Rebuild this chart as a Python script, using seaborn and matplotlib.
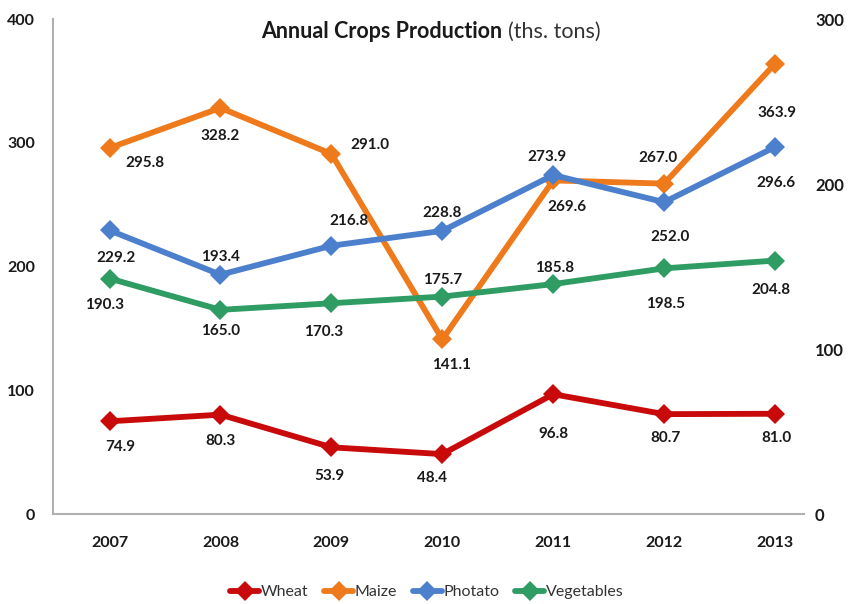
import matplotlib
matplotlib.use("Agg")
import matplotlib.pyplot as plt
import seaborn as sns
import pandas as pd

years = ["2007", "2008", "2009", "2010", "2011", "2012", "2013"]
wheat = [74.9, 80.3, 53.9, 48.4, 96.8, 80.7, 81.0]
maize = [295.8, 328.2, 291.0, 141.1, 269.6, 267.0, 363.9]
photato = [229.2, 193.4, 216.8, 228.8, 273.9, 252.0, 296.6]
vegetables = [190.3, 165.0, 170.3, 175.7, 185.8, 198.5, 204.8]
series_names = ["Wheat", "Maize", "Photato", "Vegetables"]
left_ticks = [0, 100, 200, 300, 400]
right_ticks = [0, 100, 200, 300]

colors = {"Wheat": "#C80A0A", "Maize": "#EE7A1C", "Photato": "#4C80CC", "Vegetables": "#2E9C63"}

# label offsets in pixels (dx, dy) for each point
offsets = {
    "Wheat": [(11, -26), (0, -26), (-2, -29), (-10, -24), (0, -40), (1, -24), (1, -24)],
    "Maize": [(35, -15), (0, -28), (39, 9), (9, -26), (14, -27), (-6, 26), (2, -49)],
    "Photato": [(6, -28), (0, 18), (18, 25), (0, 18), (-6, 18), (6, -35), (1, -36)],
    "Vegetables": [(-5, -26), (0, -21), (-8, -29), (0, 17), (1, 16), (1, -36), (-4, -29)],
}

sns.set_theme(style="white")
plt.rcParams["font.family"] = ["Lato", "DejaVu Sans"]

values = {"Wheat": wheat, "Maize": maize, "Photato": photato, "Vegetables": vegetables}
rows = []
for name in series_names:
    for i, (yr, v) in enumerate(zip(years, values[name])):
        rows.append({"idx": i, "year": yr, "crop": name, "value": v})
df = pd.DataFrame(rows)

fig = plt.figure(figsize=(8.48, 6.04), dpi=100)
ax = fig.add_axes([0.0625, 0.149, 0.8855, 0.8195])

for name in series_names:
    sub = df[df.crop == name]
    sns.lineplot(data=sub, x="idx", y="value", ax=ax, color=colors[name], marker="D",
                 markersize=10, linewidth=4.2, markeredgewidth=0, label=name, legend=False)
    for (i, v), (dx, dy) in zip(zip(sub.idx, sub.value), offsets[name]):
        ax.annotate(f"{v:.1f}", (i, v), xytext=(dx, dy), textcoords="offset pixels",
                    ha="center", va="center", fontsize=11, fontweight="bold", color="#1a1a1a")

ax.set_xlim(-0.51, 6.26)
ax.set_ylim(0, 400)
ax.set_yticks(left_ticks)
ax.set_xticks(range(len(years)))
ax.set_xticklabels(years)
ax.set_xlabel("")
ax.set_ylabel("")
for s in ["top", "right"]:
    ax.spines[s].set_visible(False)
for s in ["left", "bottom"]:
    ax.spines[s].set_color("#b0b0b0")
    ax.spines[s].set_linewidth(1.5)
ax.tick_params(axis="both", length=0, labelsize=11.5, colors="#1a1a1a")
ax.tick_params(axis="y", pad=13)
ax.tick_params(axis="x", pad=16)
for lab in ax.get_xticklabels() + ax.get_yticklabels():
    lab.set_fontweight("bold")

ax2 = ax.twinx()
ax2.set_ylim(0, 300)
ax2.set_yticks(right_ticks)
for s in ax2.spines.values():
    s.set_visible(False)
ax2.tick_params(axis="y", length=0, labelsize=12, colors="#1a1a1a", pad=8)
for lab in ax2.get_yticklabels():
    lab.set_fontweight("bold")

fig.text(502 / 848, 1 - 32 / 604, "Annual Crops Production", ha="right", va="center",
         fontsize=15.5, fontweight="bold", color="#1a1a1a")
fig.text(508 / 848, 1 - 32 / 604, "(ths. tons)", ha="left", va="center",
         fontsize=15.5, color="#333333")

handles, labels = ax.get_legend_handles_labels()
fig.legend(handles, labels, loc="center", bbox_to_anchor=(427 / 848, 1 - 592 / 604), ncol=4,
           frameon=False, fontsize=11.5, handlelength=1.8, handletextpad=0.1, columnspacing=1.0,
           labelcolor="#333333")

fig.savefig("out.png", dpi=100)
